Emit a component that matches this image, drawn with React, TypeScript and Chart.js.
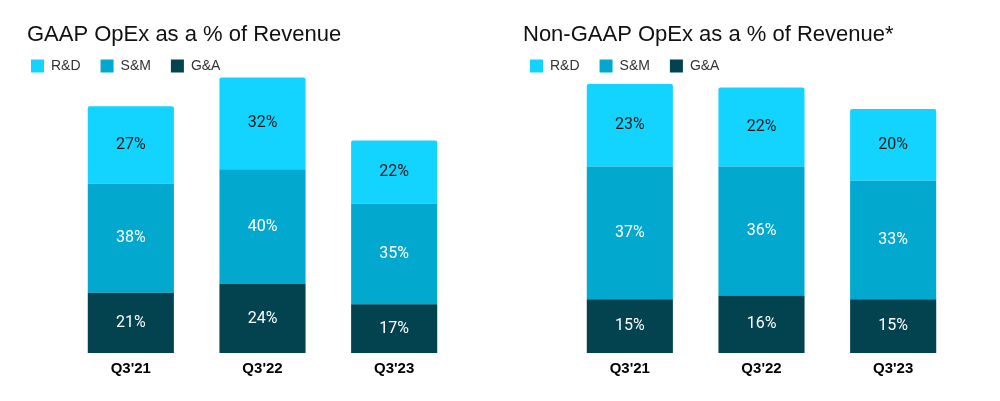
import React, { useEffect, useRef } from "react";
import { Chart, registerables } from "chart.js";

Chart.register(...registerables);

const categories = ["Q3'21", "Q3'22", "Q3'23"];
const seriesNames = ["R&D", "S&M", "G&A"];

const gaapRnd = [27, 32, 22];
const gaapSnm = [38, 40, 35];
const gaapGna = [21, 24, 17];

const nonGaapRnd = [23, 22, 20];
const nonGaapSnm = [37, 36, 33];
const nonGaapGna = [15, 16, 15];

const rndColor = "#13D3FF";
const snmColor = "#03A8CE";
const gnaColor = "#03424F";

type PanelProps = {
  title: string;
  rnd: number[];
  snm: number[];
  gna: number[];
  yMax: number;
  titleLeft: number;
  axisWidth: number;
  padRight: number;
  legendBoxX: number;
  legendBoxCenterY: number;
};

const labelPlugin = {
  id: "segLabels",
  afterDatasetsDraw(chart: any) {
    const ctx = chart.ctx;
    ctx.save();
    ctx.font = "16px Roboto";
    ctx.textAlign = "center";
    ctx.textBaseline = "middle";
    chart.data.datasets.forEach((ds: any, i: number) => {
      const meta = chart.getDatasetMeta(i);
      meta.data.forEach((el: any, j: number) => {
        const p = el.getProps(["x", "y", "base"], true);
        ctx.fillStyle = ds.labelColor;
        ctx.fillText(ds.data[j] + "%", p.x, (p.y + p.base) / 2);
      });
    });
    ctx.restore();
  },
};

function Panel(props: PanelProps) {
  const ref = useRef<HTMLCanvasElement | null>(null);
  useEffect(() => {
    if (!ref.current) return;
    const legendPad = 20;
    const legendPlace = {
      id: "legendPlace",
      beforeDraw(chart: any) {
        const lg = chart.legend;
        if (lg) {
          const h = lg.bottom - lg.top;
          lg.left = props.legendBoxX - legendPad;
          lg.top = props.legendBoxCenterY - legendPad - 7;
          lg.bottom = lg.top + h;
        }
      },
    };
    const chart = new Chart(ref.current, {
      type: "bar",
      data: {
        labels: categories,
        datasets: [
          { label: seriesNames[2], data: props.gna, backgroundColor: gnaColor, labelColor: "#ffffff" } as any,
          { label: seriesNames[1], data: props.snm, backgroundColor: snmColor, labelColor: "#ffffff" } as any,
          {
            label: seriesNames[0],
            data: props.rnd,
            backgroundColor: rndColor,
            labelColor: "#1a1a1a",
            borderRadius: { topLeft: 2, topRight: 2, bottomLeft: 0, bottomRight: 0 },
            borderSkipped: false,
          } as any,
        ],
      },
      options: {
        responsive: false,
        animation: false,
        devicePixelRatio: 1,
        datasets: { bar: { categoryPercentage: 1, barPercentage: 0.654 } },
        layout: { padding: { left: props.titleLeft, right: props.padRight, top: 0, bottom: 0 } },
        plugins: {
          tooltip: { enabled: false },
          title: {
            display: true,
            text: props.title,
            align: "start",
            color: "#111111",
            font: { family: "Liberation Sans, Arial", size: 22, weight: "normal" },
            padding: { top: 22, bottom: -26.4 },
          },
          legend: {
            display: true,
            position: "top",
            align: "start",
            labels: {
              boxWidth: 13,
              boxHeight: 13,
              padding: legendPad,
              color: "#333333",
              font: { family: "Liberation Sans, Arial", size: 14 },
              sort: (a: any, b: any) => b.datasetIndex - a.datasetIndex,
            },
          },
        },
        scales: {
          x: {
            stacked: true,
            grid: { display: false, drawTicks: false },
            border: { display: false },
            ticks: {
              color: "#000000",
              padding: 7,
              font: { family: "Liberation Sans, Arial", size: 15, weight: "bold" },
            },
            afterFit: (s: any) => {
              s.height = 48;
            },
          },
          y: {
            stacked: true,
            min: 0,
            max: props.yMax,
            grid: { display: false, drawTicks: false },
            border: { display: false },
            ticks: { display: false },
            afterFit: (s: any) => {
              s.width = props.axisWidth;
            },
          },
        },
      } as any,
      plugins: [labelPlugin, legendPlace],
    });
    return () => chart.destroy();
  }, []);
  return <canvas ref={ref} width={500} height={401} style={{ display: "block", width: 500, height: 401 }} />;
}

export default function App() {
  return (
    <div style={{ position: "absolute", left: 0, top: 0, width: 1000, height: 401, background: "#ffffff", display: "flex" }}>
      <Panel
        title="GAAP OpEx as a % of Revenue"
        rnd={gaapRnd}
        snm={gaapSnm}
        gna={gaapGna}
        yMax={100}
        titleLeft={27}
        axisWidth={38}
        padRight={40}
        legendBoxX={31}
        legendBoxCenterY={66}
      />
      <Panel
        title="Non-GAAP OpEx as a % of Revenue*"
        rnd={nonGaapRnd}
        snm={nonGaapSnm}
        gna={nonGaapGna}
        yMax={80}
        titleLeft={23}
        axisWidth={41}
        padRight={41}
        legendBoxX={30}
        legendBoxCenterY={66}
      />
    </div>
  );
}
